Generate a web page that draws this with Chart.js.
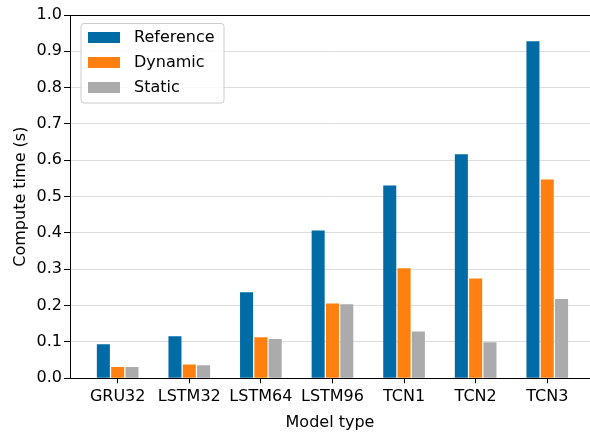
<!DOCTYPE html>
<html>
<head>
<meta charset="utf-8">
<script src="https://cdn.jsdelivr.net/npm/chart.js@4/dist/chart.umd.min.js"></script>
<style>
  html, body { margin: 0; padding: 0; background: #ffffff; overflow: hidden; }
  #wrap { width: 590px; height: 432px; }
</style>
</head>
<body>
<div id="wrap"><canvas id="c" width="590" height="432"></canvas></div>
<script>
// Compute time per model type (seconds)
const categories = ['GRU32', 'LSTM32', 'LSTM64', 'LSTM96', 'TCN1', 'TCN2', 'TCN3'];
const referenceTimes = [0.094, 0.116, 0.237, 0.407, 0.531, 0.617, 0.928];
const dynamicTimes   = [0.031, 0.038, 0.113, 0.206, 0.303, 0.275, 0.547];
const staticTimes    = [0.031, 0.036, 0.108, 0.204, 0.129, 0.099, 0.218];
const seriesNames = ['Reference', 'Dynamic', 'Static'];
const yTickValues = [0, 0.1, 0.2, 0.3, 0.4, 0.5, 0.6, 0.7, 0.8, 0.9, 1.0];

const FONT = 'DejaVu Sans';
const COLORS = ['#006BA4', '#FF800E', '#ABABAB'];

const toPoints = vals => vals.map((v, i) => ({ x: i, y: v }));

// Boxed legend inside the plot, top-left, drawn over the bars
const boxLegend = {
  id: 'boxLegend',
  afterDatasetsDraw(chart) {
    const ctx = chart.ctx;
    const x0 = 81, y0 = 23.5, w = 143, h = 79.5;
    ctx.save();
    ctx.beginPath();
    ctx.roundRect(x0, y0, w, h, 3);
    ctx.fillStyle = 'rgba(255,255,255,0.85)';
    ctx.fill();
    ctx.strokeStyle = '#cccccc';
    ctx.lineWidth = 1;
    ctx.stroke();
    ctx.font = '16px "' + FONT + '"';
    ctx.textBaseline = 'middle';
    ctx.textAlign = 'left';
    chart.data.datasets.forEach((ds, i) => {
      const cy = 37.5 + i * 25;
      ctx.fillStyle = ds.backgroundColor;
      ctx.fillRect(88, cy - 5.5, 32, 11);
      ctx.fillStyle = '#000000';
      ctx.fillText(ds.label, 134, cy + 0.5);
    });
    ctx.restore();
  },
  afterDraw(chart) {
    // top frame line
    const { left, right, top } = chart.chartArea;
    const ctx = chart.ctx;
    ctx.save();
    ctx.strokeStyle = '#000000';
    ctx.lineWidth = 1;
    ctx.beginPath();
    ctx.moveTo(left, Math.round(top) + 0.5);
    ctx.lineTo(right, Math.round(top) + 0.5);
    ctx.stroke();
    ctx.restore();
  }
};

new Chart(document.getElementById('c'), {
  type: 'bar',
  data: {
    datasets: [
      { label: seriesNames[0], data: toPoints(referenceTimes), backgroundColor: COLORS[0] },
      { label: seriesNames[1], data: toPoints(dynamicTimes), backgroundColor: COLORS[1] },
      { label: seriesNames[2], data: toPoints(staticTimes), backgroundColor: COLORS[2] }
    ]
  },
  options: {
    responsive: false,
    animation: false,
    devicePixelRatio: 1,
    layout: { padding: { top: 15, left: 0, right: 0, bottom: 0 } },
    datasets: {
      bar: { categoryPercentage: 0.6, barPercentage: 0.91, borderWidth: 0 }
    },
    plugins: {
      legend: { display: false },
      tooltip: { enabled: false }
    },
    scales: {
      x: {
        type: 'linear',
        min: -0.666,
        max: 6.597,
        offset: false,
        afterBuildTicks: s => { s.ticks = categories.map((_, i) => ({ value: i })); },
        afterFit: s => { s.height = 53.7; },
        ticks: {
          autoSkip: false,
          maxRotation: 0,
          padding: 4,
          color: '#000000',
          font: { family: FONT, size: 16 },
          callback: v => categories[v] ?? ''
        },
        grid: { display: true, offset: false, drawOnChartArea: false, drawTicks: true, tickLength: 5, tickColor: '#000000' },
        border: { display: true, color: '#000000', width: 1 },
        title: {
          display: true, text: 'Model type', color: '#000000',
          font: { family: FONT, size: 16 }, padding: { top: 0, bottom: 0 }
        }
      },
      y: {
        min: 0,
        max: 1,
        afterBuildTicks: s => { s.ticks = yTickValues.map(v => ({ value: v })); },
        afterFit: s => { s.width = 70; },
        ticks: {
          padding: 2,
          color: '#000000',
          font: { family: FONT, size: 16 },
          callback: v => Number(v).toFixed(1)
        },
        grid: { color: '#dddddd', lineWidth: 1, tickLength: 6, tickColor: '#000000' },
        border: { display: true, color: '#000000', width: 1 },
        title: {
          display: true, text: 'Compute time (s)', color: '#000000',
          font: { family: FONT, size: 16 }, padding: { top: 11, bottom: 0 }
        }
      }
    }
  },
  plugins: [boxLegend]
});
</script>
</body>
</html>
